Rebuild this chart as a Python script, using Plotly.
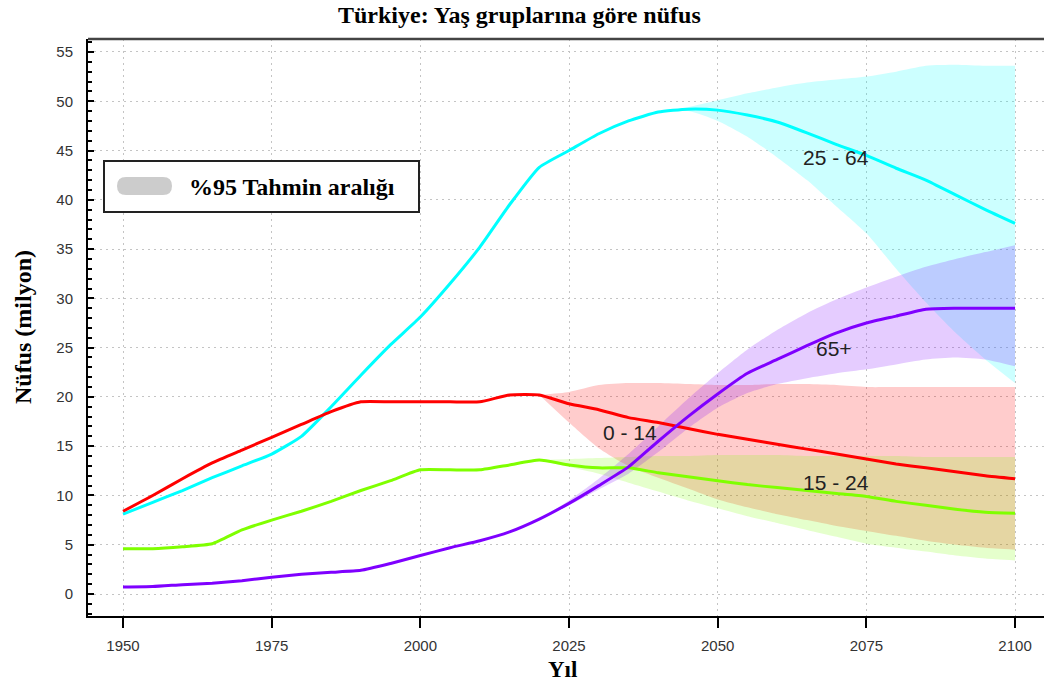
import plotly.graph_objects as go

# ---------------- data ----------------
years = [1950, 1955, 1960, 1965, 1970, 1975, 1980, 1985, 1990, 1995, 2000,
         2005, 2010, 2015, 2020, 2025, 2030, 2035, 2040, 2045, 2050,
         2055, 2060, 2065, 2070, 2075, 2080, 2085, 2090, 2095, 2100]

pop_0_14 = [8.4, 10.0, 11.7, 13.3, 14.6, 15.9, 17.2, 18.5, 19.5, 19.5, 19.5,
            19.5, 19.5, 20.2, 20.2, 19.3, 18.7, 17.9, 17.4, 16.8, 16.2,
            15.7, 15.2, 14.7, 14.2, 13.7, 13.2, 12.8, 12.4, 12.0, 11.7]
pop_15_24 = [4.6, 4.6, 4.8, 5.1, 6.5, 7.5, 8.4, 9.4, 10.5, 11.5, 12.6,
             12.6, 12.6, 13.1, 13.6, 13.1, 12.8, 12.8, 12.3, 11.9, 11.5,
             11.1, 10.8, 10.5, 10.2, 9.9, 9.4, 9.0, 8.6, 8.3, 8.2]
pop_25_64 = [8.1, 9.3, 10.5, 11.8, 13.0, 14.2, 16.0, 19.0, 22.2, 25.3, 28.1,
             31.5, 35.2, 39.5, 43.3, 45.0, 46.7, 48.0, 48.9, 49.2, 49.1,
             48.6, 47.9, 46.8, 45.6, 44.5, 43.2, 42.0, 40.5, 39.0, 37.6]
pop_65p = [0.7, 0.75, 0.95, 1.1, 1.35, 1.7, 2.0, 2.2, 2.4, 3.1, 3.9,
           4.7, 5.4, 6.3, 7.6, 9.2, 11.0, 12.9, 15.5, 18.0, 20.3,
           22.4, 23.8, 25.2, 26.5, 27.5, 28.2, 28.9, 29.0, 29.0, 29.0]

band_years = [2020, 2025, 2030, 2035, 2040, 2045, 2050, 2055, 2060,
              2065, 2070, 2075, 2080, 2085, 2090, 2095, 2100]
hi_0_14 = [20.2, 20.5, 21.2, 21.4, 21.4, 21.3, 21.2, 21.2, 21.3,
           21.3, 21.2, 21.0, 21.0, 21.0, 21.0, 21.0, 21.0]
lo_0_14 = [20.2, 17.4, 14.8, 13.0, 11.8, 10.7, 9.6, 8.8, 8.1,
           7.5, 6.9, 6.4, 5.9, 5.4, 5.0, 4.7, 4.5]
hi_15_24 = [13.6, 13.7, 13.8, 13.9, 14.0, 14.0, 14.1, 14.1, 14.1,
            14.0, 14.0, 14.0, 14.0, 13.9, 13.9, 13.9, 13.9]
lo_15_24 = [13.6, 12.9, 12.2, 11.3, 10.4, 9.5, 8.7, 7.9, 7.2,
            6.5, 5.8, 5.1, 4.7, 4.3, 3.9, 3.6, 3.4]
hi_25_64 = [43.3, 45.0, 46.7, 48.0, 48.9, 49.4, 50.1, 50.8, 51.4,
            51.9, 52.2, 52.5, 53.0, 53.6, 53.7, 53.6, 53.6]
lo_25_64 = [43.3, 45.0, 46.7, 48.0, 48.9, 49.0, 48.0, 46.4, 44.3,
            42.0, 39.3, 36.6, 33.0, 29.6, 26.5, 23.8, 21.4]
hi_65p = [7.6, 9.5, 11.7, 14.2, 17.0, 19.8, 22.4, 24.8, 26.8,
          28.5, 29.9, 31.1, 32.2, 33.2, 34.0, 34.7, 35.4]
lo_65p = [7.6, 9.0, 10.6, 12.2, 14.4, 16.8, 18.9, 20.4, 21.3,
          21.9, 22.4, 22.8, 23.3, 23.8, 24.0, 23.8, 23.1]

x_ticks = [1950, 1975, 2000, 2025, 2050, 2075, 2100]
y_ticks = [0, 5, 10, 15, 20, 25, 30, 35, 40, 45, 50, 55]

labels = [  # (text, year, value)
    ("25 - 64", 2069.9, 44.3),
    ("65+", 2069.5, 24.9),
    ("0 - 14", 2035.3, 16.4),
    ("15 - 24", 2069.9, 11.3),
]

# ---------------- styling ----------------
COL = {
    "25_64": "#00FFFF",
    "0_14": "#FF0000",
    "15_24": "#7FFF00",
    "65p": "#7F00FF",
}
FILL = {
    "25_64": "rgba(0,255,255,0.2)",
    "0_14": "rgba(255,0,0,0.2)",
    "15_24": "rgba(127,255,0,0.2)",
    "65p": "rgba(127,0,255,0.2)",
}

W, H = 1044, 685
L, R, T, B = 88, 0, 39, 69
PW, PH = W - L - R, H - T - B


def fx(px):
    return (px - L) / PW


def fy(py):
    return (H - B - py) / PH


fig = go.Figure()

bands = [
    ("25_64", lo_25_64, hi_25_64),
    ("0_14", lo_0_14, hi_0_14),
    ("15_24", lo_15_24, hi_15_24),
    ("65p", lo_65p, hi_65p),
]
for key, lo, hi in bands:
    fig.add_trace(go.Scatter(x=band_years, y=lo, mode="lines",
                             line=dict(width=0, color=FILL[key], shape="spline", smoothing=0.6),
                             showlegend=False, hoverinfo="skip"))
    fig.add_trace(go.Scatter(x=band_years, y=hi, mode="lines", fill="tonexty",
                             fillcolor=FILL[key],
                             line=dict(width=0, color=FILL[key], shape="spline", smoothing=0.6),
                             showlegend=False, hoverinfo="skip"))

for key, vals in [("25_64", pop_25_64), ("15_24", pop_15_24),
                  ("0_14", pop_0_14), ("65p", pop_65p)]:
    fig.add_trace(go.Scatter(x=years, y=vals, mode="lines",
                             line=dict(color=COL[key], width=3, shape="spline", smoothing=0.5),
                             showlegend=False))

# curve labels
for text, xv, yv in labels:
    fig.add_annotation(x=xv, y=yv, text=text, showarrow=False,
                       font=dict(family="Liberation Sans, Arial", size=21, color="#222222"),
                       xanchor="center", yanchor="middle")

serif = "Liberation Serif, Times New Roman, serif"

# title
fig.add_annotation(xref="paper", yref="paper", x=fx(519), y=fy(15),
                   text="<b>Türkiye: Yaş gruplarına göre nüfus</b>", showarrow=False,
                   font=dict(family=serif, size=24, color="#000000"),
                   xanchor="center", yanchor="middle")
# axis titles
fig.add_annotation(xref="paper", yref="paper", x=fx(562), y=fy(669),
                   text="<b>Yıl</b>", showarrow=False,
                   font=dict(family=serif, size=23, color="#000000"),
                   xanchor="center", yanchor="middle")
fig.add_annotation(xref="paper", yref="paper", x=fx(23), y=fy(327),
                   text="<b>Nüfus (milyon)</b>", showarrow=False, textangle=-90,
                   font=dict(family=serif, size=24, color="#000000"),
                   xanchor="center", yanchor="middle")

# legend box
shapes = [
    dict(type="rect", xref="paper", yref="paper",
         x0=fx(104), x1=fx(419), y0=fy(212), y1=fy(161),
         line=dict(color="#222222", width=2), fillcolor="white", layer="above"),
    dict(type="path", xref="paper", yref="paper",
         path=(f"M {fx(126)},{fy(177)} L {fx(163)},{fy(177)} "
               f"Q {fx(172)},{fy(177)} {fx(172)},{fy(186)} "
               f"Q {fx(172)},{fy(195)} {fx(163)},{fy(195)} "
               f"L {fx(126)},{fy(195)} "
               f"Q {fx(117)},{fy(195)} {fx(117)},{fy(186)} "
               f"Q {fx(117)},{fy(177)} {fx(126)},{fy(177)} Z"),
         fillcolor="#CCCCCC", line=dict(width=0), layer="above"),
    # top frame line
    dict(type="line", xref="paper", yref="paper", x0=0, x1=1, y0=1, y1=1,
         line=dict(color="#444444", width=2.5), layer="above"),
]
fig.add_annotation(xref="paper", yref="paper", x=fx(187), y=fy(187),
                   text="<b>%95 Tahmin aralığı</b>", showarrow=False,
                   font=dict(family=serif, size=24, color="#000000"),
                   xanchor="left", yanchor="middle")

x_min = 1950 - (123 - L) / 5.947
x_max = 1950 + (W - 123) / 5.947
y_min = (594 - (H - B)) / 9.855
y_max = (594 - T) / 9.855

fig.update_layout(
    width=W, height=H,
    margin=dict(l=L, r=R, t=T, b=B, pad=0),
    paper_bgcolor="white", plot_bgcolor="white",
    showlegend=False,
    shapes=shapes,
    xaxis=dict(range=[x_min, x_max], tickvals=x_ticks,
               ticktext=[str(v) for v in x_ticks],
               showline=True, linecolor="#000000", linewidth=2,
               ticks="outside", ticklen=10, tickwidth=2, tickcolor="#000000",
               showgrid=True, gridcolor="#C4C4C4", gridwidth=1, griddash="2px,4px",
               zeroline=False, ticklabelstandoff=5,
               tickfont=dict(family="Liberation Sans, Arial", size=15, color="#333333")),
    yaxis=dict(range=[y_min, y_max], tickvals=y_ticks,
               ticktext=[str(v) for v in y_ticks],
               showline=True, linecolor="#000000", linewidth=2,
               ticks="inside", ticklen=6, tickwidth=2, tickcolor="#000000",
               minor=dict(dtick=1, ticks="inside", ticklen=4, tickwidth=1.5,
                          tickcolor="#000000", showgrid=False),
               showgrid=True, gridcolor="#C4C4C4", gridwidth=1, griddash="2px,4px",
               zeroline=False, ticklabelstandoff=10,
               tickfont=dict(family="Liberation Sans, Arial", size=15, color="#333333")),
)

fig.write_html("out.html", config={"displayModeBar": False},
               post_script="document.body.style.margin='0';")
